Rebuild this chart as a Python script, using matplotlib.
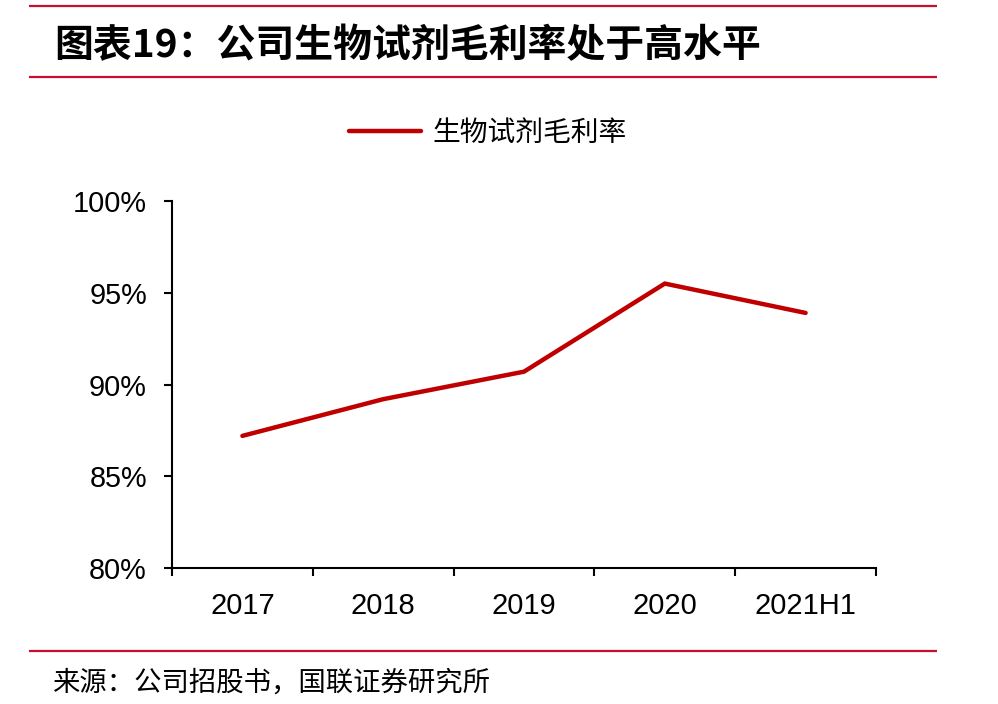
import matplotlib
matplotlib.use("Agg")
import matplotlib.pyplot as plt
from matplotlib.lines import Line2D

categories = ["2017", "2018", "2019", "2020", "2021H1"]
margin = [0.872, 0.892, 0.907, 0.955, 0.939]
yticks = [0.80, 0.85, 0.90, 0.95, 1.00]
ytick_labels = ["80%", "85%", "90%", "95%", "100%"]
series_name = "生物试剂毛利率"
title = "图表19：公司生物试剂毛利率处于高水平"
source = "来源：公司招股书，国联证券研究所"

W, H = 998, 704
fig = plt.figure(figsize=(W / 100, H / 100), dpi=100)
fig.patch.set_facecolor("white")

def fx(px):
    return px / W

def fy(py):
    return 1 - py / H

cjk = ["Noto Sans CJK SC", "DejaVu Sans"]
latin = ["Liberation Sans", "DejaVu Sans"]
red_rule = "#C8102E"
line_red = "#C00000"

# rules
for y in (6, 77, 651):
    fig.add_artist(Line2D([fx(29), fx(937)], [fy(y), fy(y)], transform=fig.transFigure,
                          color=red_rule, lw=1.6, solid_capstyle="butt"))

fig.text(fx(54), fy(46), title, family=cjk, fontsize=28, fontweight="bold",
         fontstyle="italic", ha="left", va="center", color="black")
fig.text(fx(52), fy(683), source, family=cjk, fontsize=19.7, ha="left", va="center",
         color="black")

ax = fig.add_axes([fx(172), fy(568), fx(876) - fx(172), fy(201) - fy(568)])
x = list(range(len(categories)))
ax.plot(x, margin, color=line_red, lw=3.2, solid_capstyle="round",
        solid_joinstyle="miter", label=series_name)

ax.set_xlim(-0.5, len(categories) - 0.5)
ax.set_ylim(0.80, 1.00)
ax.set_yticks(yticks)
ax.set_yticklabels(ytick_labels)
ax.set_xticks(x)
ax.set_xticklabels(categories)
ax.set_xticks([i - 0.5 for i in range(len(categories) + 1)], minor=True)

for s in ("top", "right"):
    ax.spines[s].set_visible(False)
for s in ("left", "bottom"):
    ax.spines[s].set_linewidth(1.5)
    ax.spines[s].set_color("black")

ax.tick_params(axis="y", which="major", direction="out", length=6, width=1.5,
               pad=12, labelsize=20.8)
ax.tick_params(axis="x", which="major", length=0, pad=17, labelsize=21)
ax.tick_params(axis="x", which="minor", direction="out", length=6, width=1.5)
for lab in ax.get_xticklabels() + ax.get_yticklabels():
    lab.set_family(latin)

leg = fig.legend(handles=[Line2D([0], [0], color=line_red, lw=3.2, solid_capstyle="round")],
                 labels=[series_name], loc="center", bbox_to_anchor=(fx(488), fy(133)),
                 frameon=False, prop={"family": cjk, "size": 20}, handlelength=2.6,
                 handletextpad=0.4)

fig.savefig("out.png", dpi=100, facecolor="white")
